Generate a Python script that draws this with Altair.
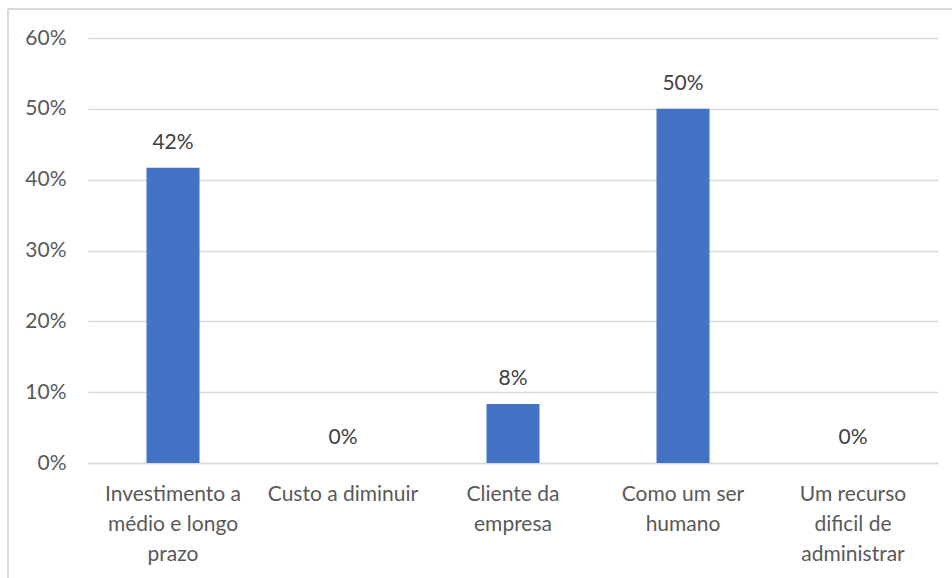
import altair as alt
import pandas as pd

categories = [
    "Investimento a\nmédio e longo\nprazo",
    "Custo a diminuir",
    "Cliente da\nempresa",
    "Como um ser\nhumano",
    "Um recurso\ndificil de\nadministrar",
]
values = [0.4167, 0.0, 0.0833, 0.50, 0.0]
labels = ["42%", "0%", "8%", "50%", "0%"]

df = pd.DataFrame({"cat": categories, "val": values, "lab": labels})

FONT = "Lato"
GREY = "#595959"
FS = 21

x = alt.X("cat:N", sort=None, title=None,
          axis=alt.Axis(labelAngle=0, labelExpr="split(datum.label, '\\n')",
                        labelFont=FONT, labelFontSize=FS, labelColor=GREY,
                        labelLineHeight=30, labelPadding=20, ticks=False,
                        domainColor="#d9d9d9", domainWidth=1.3, labelLimit=200))
y = alt.Y("val:Q", title=None, scale=alt.Scale(domain=[0, 0.6], nice=False),
          axis=alt.Axis(format=".0%", values=[0, 0.1, 0.2, 0.3, 0.4, 0.5, 0.6],
                        labelFont=FONT, labelFontSize=FS, labelColor=GREY,
                        labelPadding=22, ticks=False, domain=False,
                        gridColor="#d9d9d9", gridWidth=1.3))

base = alt.Chart(df)
bars = base.mark_bar(color="#4472C4", size=53).encode(x=x, y=y)
text = base.mark_text(font=FONT, fontSize=FS, color="#404040", dy=-25).encode(
    x=alt.X("cat:N", sort=None), y="val:Q", text="lab:N")

border_top = alt.Chart(df).mark_rule(color="#d9d9d9", strokeWidth=1.3).encode(
    x=alt.value(-80), x2=alt.value(880), y=alt.value(-29))
border_left = alt.Chart(df).mark_rule(color="#d9d9d9", strokeWidth=1.3).encode(
    x=alt.value(-80), y=alt.value(-29), y2=alt.value(600))

chart = alt.layer(border_top, border_left, bars, text).properties(
    width=850, height=425,
    padding={"left": 88, "top": 38, "right": 14, "bottom": 115},
    autosize=alt.AutoSizeParams(type="none"),
    background="white",
).configure_view(stroke=None)

chart.save("out.html", embed_options={"renderer": "svg", "actions": False})
